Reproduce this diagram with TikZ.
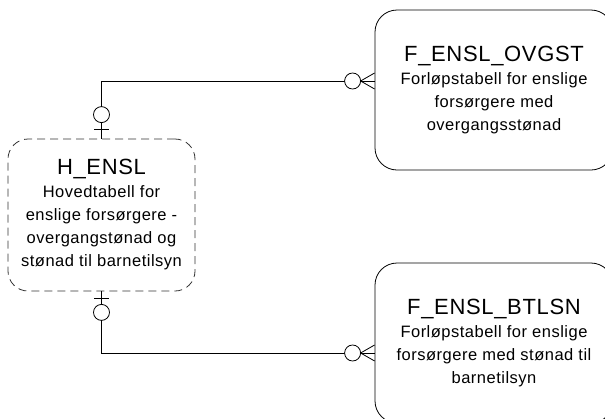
\documentclass[tikz,border=0pt]{standalone}
\usepackage{fontspec}
\setmainfont{Liberation Sans}
\newfontfamily\descfont{Liberation Sans}[LetterSpace=3]
\usetikzlibrary{calc}
\tikzstyle{main table}=[
        draw = black!80,
        dash pattern = on 8pt off 5pt,
        rounded corners = 20pt,
        minimum width = 187pt,
        minimum height = 152pt,
        align = center,
        inner sep = 0pt
    ]
\tikzstyle{fact table}=[
    draw,
    rounded corners = 22pt,
    minimum width = 238pt,
    minimum height = 160pt,
    align = center,
    inner sep = 0pt
]
\newcommand{\tabname}[1]{{\fontsize{22}{26}\selectfont #1}}

\begin{document}
\begin{tikzpicture}[x=1pt, y=-1pt, line width=0.8pt, font=\descfont\fontsize{16.5}{23}\selectfont]
        \useasboundingbox (0,0) rectangle (605,418);

        \node[main table] (hensl) at (101.5,215) {\tabname{H\_ENSL}\\Hovedtabell for\\enslige forsørgere -\\overgangstønad og\\stønad til barnetilsyn};
        \node[fact table] (ovgst) at (494,90) {\tabname{F\_ENSL\_OVGST}\\Forløpstabell for enslige\\forsørgere med\\overgangsstønad};
        \node[fact table] (btlsn) at (494,343) {\tabname{F\_ENSL\_BTLSN}\\Forløpstabell for enslige\\forsørgere med stønad til\\barnetilsyn};

        \coordinate (ovgst end) at ($(ovgst.west)+(0,-9)$);
        \coordinate (btlsn end) at ($(btlsn.west)+(0,10)$);

        % relations
        \draw (hensl.north) |- (ovgst end);
        \draw (hensl.south) |- (btlsn end);

        % one side: bar and circle
        \draw ($(hensl.north)+(-7.5,-9)$) -- ++(15,0);
        \draw[fill=white] ($(hensl.north)+(0,-24)$) circle (8pt);
        \draw ($(hensl.south)+(-7.5,7)$) -- ++(15,0);
        \draw[fill=white] ($(hensl.south)+(0,21)$) circle (8pt);

        % many side: circle and crow's foot
        \draw[fill=white] ($(ovgst end)+(-22,0)$) circle (8pt);
        \draw ($(ovgst end)+(0,-8)$) -- ($(ovgst end)+(-14,0)$) -- ($(ovgst end)+(0,8)$);
        \draw[fill=white] ($(btlsn end)+(-22,0)$) circle (8pt);
        \draw ($(btlsn end)+(0,-8)$) -- ($(btlsn end)+(-14,0)$) -- ($(btlsn end)+(0,8)$);

    \end{tikzpicture}
\end{document}
